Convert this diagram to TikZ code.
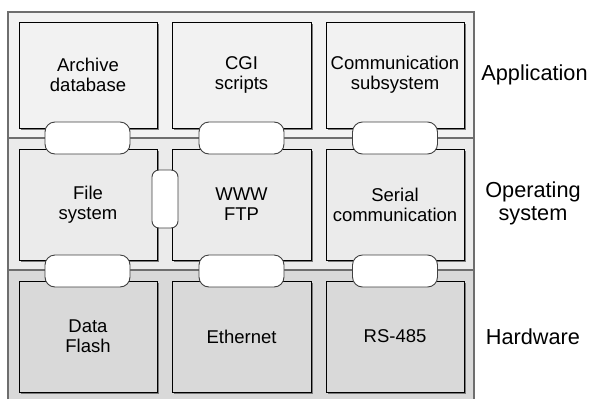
\documentclass[tikz,border=0pt]{standalone}
\usepackage{fontspec}
\setmainfont{Liberation Sans}
\usepackage{tikz}
\usetikzlibrary{shadows}
\definecolor{appband}{HTML}{F2F2F2}
\definecolor{osband}{HTML}{EBEBEB}
\definecolor{hwband}{HTML}{D9D9D9}
\definecolor{framegray}{HTML}{6E6E6E}
\definecolor{shadegray}{HTML}{7A7A7A}

\begin{document}
\begin{tikzpicture}[x=1pt, y=-1pt,
  every node/.style={font=\fontsize{18.5}{20}\selectfont, align=center},
  module/.style={rectangle, draw=black, line width=0.9pt, inner sep=0pt,
    general shadow={fill=shadegray, shadow xshift=1.5pt, shadow yshift=-1.5pt}},
  iface/.style={rectangle, draw=black!75, fill=white, line width=0.9pt, rounded corners=10pt, inner sep=0pt},
  layer/.style={font=\fontsize{21.7}{23}\selectfont}]
\useasboundingbox (0,0) rectangle (593,399);
% layers
\fill[appband] (8,12) rectangle (474,138);
\fill[osband] (8,138) rectangle (474,270);
\fill[hwband] (8,270) rectangle (474,399);
\draw[framegray, line width=1.5pt] (8,399) -- (8,12) -- (474,12) -- (474,399);
\draw[framegray, line width=1.5pt] (8,138) -- (474,138);
\draw[framegray, line width=1.5pt] (8,270) -- (474,270);
% application
\node[module, fill=appband, minimum width=138pt, minimum height=106pt] (archive) at (88,75) {Archive\\database};
\node[module, fill=appband, minimum width=139pt, minimum height=106pt] (cgi) at (241.5,75) {CGI\\scripts};
\node[module, fill=appband, minimum width=138pt, minimum height=106pt] (comm) at (395,75) {Communication\\subsystem};
% operating system
\node[module, fill=osband, minimum width=138pt, minimum height=111pt] (fs) at (88,204.5) {File\\system};
\node[module, fill=osband, minimum width=139pt, minimum height=111pt] (www) at (241.5,204.5) {WWW\\FTP};
\node[module, fill=osband, minimum width=138pt, minimum height=111pt] (serial) at (395,204.5) {Serial\\communication};
% hardware
\node[module, fill=hwband, minimum width=138pt, minimum height=111pt] (flash) at (88,336.5) {Data\\Flash};
\node[module, fill=hwband, minimum width=139pt, minimum height=111pt] (eth) at (241.5,336.5) {Ethernet};
\node[module, fill=hwband, minimum width=138pt, minimum height=111pt] (rs) at (395,336.5) {RS-485};
% interfaces
\node[iface, minimum width=85pt, minimum height=32pt] (archivefs) at (87.5,138) {};
\node[iface, minimum width=85pt, minimum height=32pt] (cgiwww) at (241.5,138) {};
\node[iface, minimum width=85pt, minimum height=32pt] (commserial) at (395,138) {};
\node[iface, minimum width=85pt, minimum height=32pt] (fsflash) at (87.5,271) {};
\node[iface, minimum width=85pt, minimum height=32pt] (wwweth) at (241.5,271) {};
\node[iface, minimum width=85pt, minimum height=32pt] (serialrs) at (395,271) {};
\node[iface, rounded corners=7pt, minimum width=26pt, minimum height=58pt] (fswww) at (165,199) {};
% layer names
\node[layer] (applabel) at (534.5,75) {Application};
\node[layer] (oslabel) at (533,203) {Operating\\system};
\node[layer] (hwlabel) at (533,337) {Hardware};
\end{tikzpicture}
\end{document}
